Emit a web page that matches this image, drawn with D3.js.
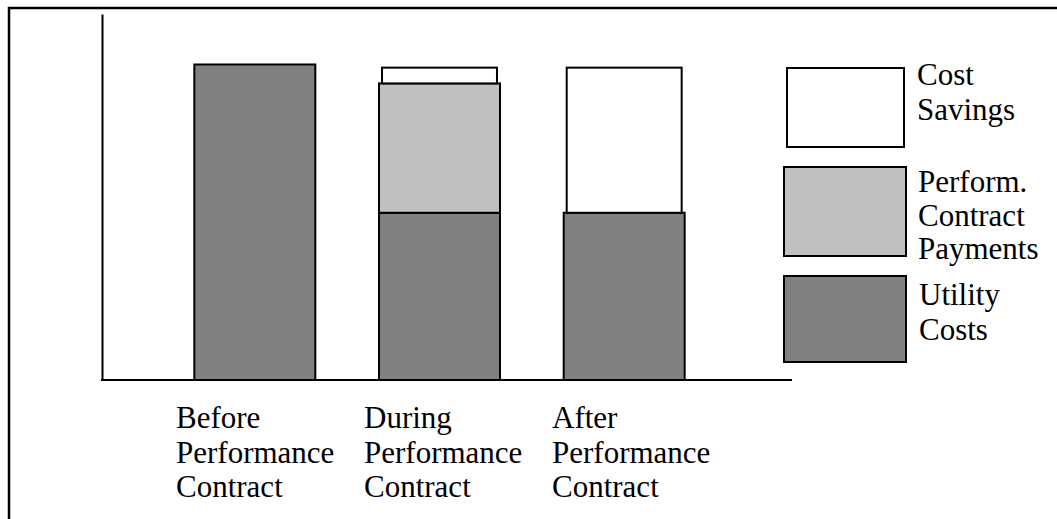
<!DOCTYPE html>
<html>
<head>
<meta charset="utf-8">
<script src="https://cdn.jsdelivr.net/npm/d3@7"></script>
<style>
  html, body { margin: 0; padding: 0; background: #fff; }
  svg { display: block; }
  text { font-family: "Liberation Serif", "Times New Roman", serif; font-size: 31px; fill: #000; }
</style>
</head>
<body>
<svg id="chart" width="1057" height="519"></svg>
<script>
// Categories (each label split into its printed lines)
const categories = ["Before", "During", "After"];
const categoryLines = [
  ["Before", "Performance", "Contract"],
  ["During", "Performance", "Contract"],
  ["After", "Performance", "Contract"]
];

// Stacked series, bottom to top (relative cost units)
const seriesKeys = ["utility", "payments", "savings"];
const utilityCosts = [100, 53, 53];
const contractPayments = [0, 41, 0];
const costSavings = [0, 5, 46];

const seriesColors = ["#808080", "#c0c0c0", "#ffffff"];

// Legend entries (top to bottom)
const legendKeys = ["savings", "payments", "utility"];
const legendLabels = [
  ["Cost", "Savings"],
  ["Perform.", "Contract", "Payments"],
  ["Utility", "Costs"]
];

const svg = d3.select("#chart");

// Frame around the slide
svg.append("path")
  .attr("d", "M9,519 V8 H1057")
  .attr("fill", "none")
  .attr("stroke", "#000")
  .attr("stroke-width", 2.5);

const x = d3.scaleBand()
  .domain(categories)
  .range([102, 777])
  .paddingInner(0.345)
  .paddingOuter(0.5);

const y = d3.scaleLinear()
  .domain([0, 116])
  .range([380, 14]);

const table = categories.map((c, i) => ({
  category: c,
  utility: utilityCosts[i],
  payments: contractPayments[i],
  savings: costSavings[i]
}));

const stacked = d3.stack().keys(seriesKeys)(table);
const color = d3.scaleOrdinal().domain(seriesKeys).range(seriesColors);

// Bars
stacked.forEach(layer => {
  const inset = layer.key === "savings" ? 3 : 0;
  svg.append("g")
    .selectAll("rect")
    .data(layer.filter(d => d[1] - d[0] > 0))
    .join("rect")
    .attr("x", d => x(d.data.category) + inset)
    .attr("width", x.bandwidth() - 2 * inset)
    .attr("y", d => y(d[1]))
    .attr("height", d => y(d[0]) - y(d[1]))
    .attr("fill", color(layer.key))
    .attr("stroke", "#000")
    .attr("stroke-width", 2);
});

// Axes: plain lines, no ticks
const yAxis = svg.append("g")
  .attr("transform", "translate(102,0)")
  .call(d3.axisLeft(y).tickValues([]).tickSizeOuter(0));
yAxis.select(".domain").attr("stroke-width", 2);

svg.append("line")
  .attr("x1", 101).attr("x2", 792)
  .attr("y1", y(0)).attr("y2", y(0))
  .attr("stroke", "#000")
  .attr("stroke-width", 2);

// Category labels below the axis
const labelX = d3.scalePoint().domain(categories).range([176, 552]);
const catLabels = svg.append("g")
  .selectAll("text")
  .data(categories)
  .join("text")
  .attr("x", d => labelX(d))
  .attr("y", 428);
catLabels.each(function(d, i) {
  d3.select(this).selectAll("tspan")
    .data(categoryLines[i])
    .join("tspan")
    .attr("x", labelX(d))
    .attr("dy", (t, j) => j === 0 ? 0 : 34.5)
    .text(t => t);
});

// Legend
const legendBoxes = [
  { x: 787, y: 68, w: 117, h: 79, tx: 917, ty: 85, lh: 35 },
  { x: 784, y: 167, w: 122, h: 89, tx: 918, ty: 192, lh: 33.5 },
  { x: 784, y: 276, w: 122, h: 86, tx: 919, ty: 305, lh: 35 }
];
legendKeys.forEach((k, i) => {
  const b = legendBoxes[i];
  svg.append("rect")
    .attr("x", b.x).attr("y", b.y)
    .attr("width", b.w).attr("height", b.h)
    .attr("fill", color(k))
    .attr("stroke", "#000")
    .attr("stroke-width", 2);
  svg.append("text")
    .attr("y", b.ty)
    .selectAll("tspan")
    .data(legendLabels[i])
    .join("tspan")
    .attr("x", b.tx)
    .attr("dy", (t, j) => j === 0 ? 0 : b.lh)
    .text(t => t);
});
</script>
</body>
</html>
